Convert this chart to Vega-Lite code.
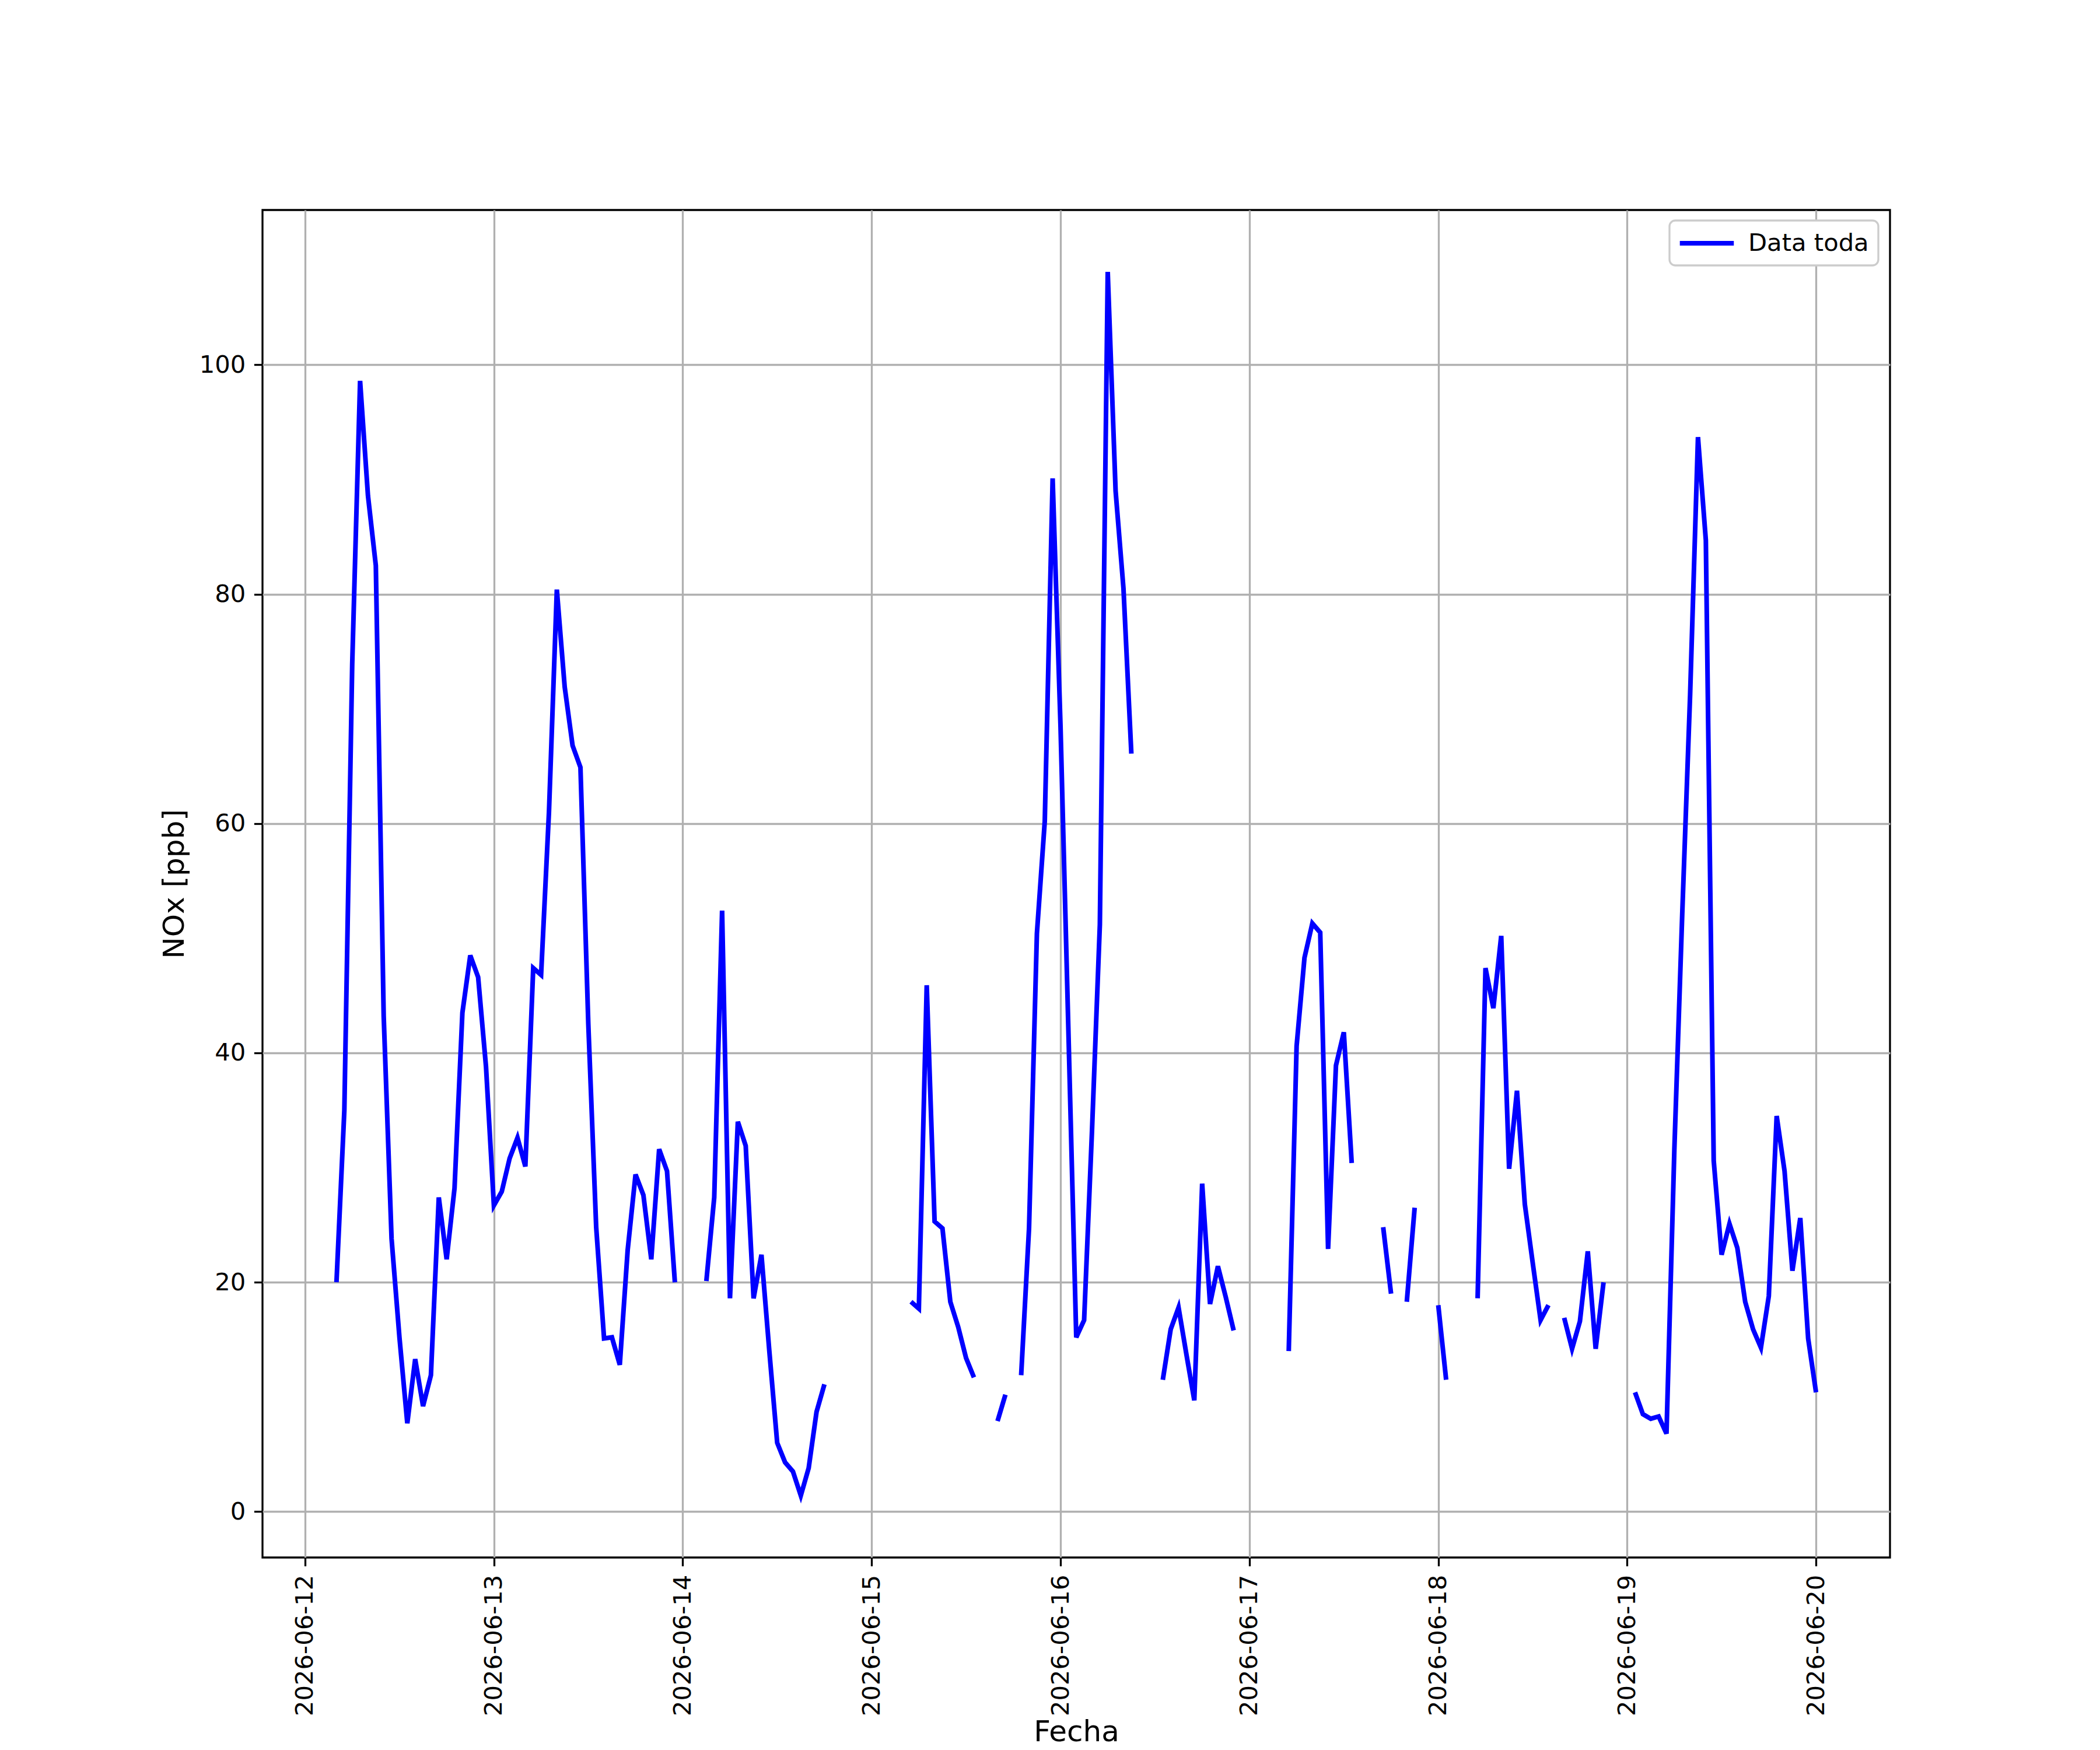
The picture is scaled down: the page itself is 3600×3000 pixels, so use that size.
{
  "$schema": "https://vega.github.io/schema/vega-lite/v6.json",
  "description": "NOx hourly, 2026-06-12 to 2026-06-20, gaps where data is missing",
  "width": 2790,
  "height": 2310,
  "autosize": {"type": "none"},
  "padding": {"left": 450, "top": 360, "right": 360, "bottom": 330},
  "background": "white",
  "config": {
    "font": "DejaVu Sans",
    "view": {"stroke": "black", "strokeWidth": 3.3},
    "axis": {
      "domain": false,
      "grid": true,
      "gridColor": "#b0b0b0",
      "gridWidth": 3.3,
      "tickColor": "black",
      "tickWidth": 3.3,
      "tickSize": 14.6,
      "labelPadding": 14.6,
      "labelLimit": 0,
      "labelFont": "DejaVu Sans",
      "labelFontSize": 41.7,
      "labelColor": "black",
      "titleFont": "DejaVu Sans",
      "titleFontSize": 50,
      "titleFontWeight": "normal",
      "titleColor": "black",
      "titlePadding": 17
    }
  },
  "data": {
    "values": [
      {"t": "2026-06-12T04:00", "nox": 20.0},
      {"t": "2026-06-12T05:00", "nox": 35.0},
      {"t": "2026-06-12T06:00", "nox": 73.9},
      {"t": "2026-06-12T07:00", "nox": 98.6},
      {"t": "2026-06-12T08:00", "nox": 88.6},
      {"t": "2026-06-12T09:00", "nox": 82.5},
      {"t": "2026-06-12T10:00", "nox": 43.2},
      {"t": "2026-06-12T11:00", "nox": 23.8},
      {"t": "2026-06-12T12:00", "nox": 15.2},
      {"t": "2026-06-12T13:00", "nox": 7.7},
      {"t": "2026-06-12T14:00", "nox": 13.3},
      {"t": "2026-06-12T15:00", "nox": 9.2},
      {"t": "2026-06-12T16:00", "nox": 11.9},
      {"t": "2026-06-12T17:00", "nox": 27.4},
      {"t": "2026-06-12T18:00", "nox": 22.0},
      {"t": "2026-06-12T19:00", "nox": 28.2},
      {"t": "2026-06-12T20:00", "nox": 43.5},
      {"t": "2026-06-12T21:00", "nox": 48.5},
      {"t": "2026-06-12T22:00", "nox": 46.6},
      {"t": "2026-06-12T23:00", "nox": 38.8},
      {"t": "2026-06-13T00:00", "nox": 26.7},
      {"t": "2026-06-13T01:00", "nox": 27.9},
      {"t": "2026-06-13T02:00", "nox": 30.8},
      {"t": "2026-06-13T03:00", "nox": 32.6},
      {"t": "2026-06-13T04:00", "nox": 30.1},
      {"t": "2026-06-13T05:00", "nox": 47.4},
      {"t": "2026-06-13T06:00", "nox": 46.8},
      {"t": "2026-06-13T07:00", "nox": 61.0},
      {"t": "2026-06-13T08:00", "nox": 80.4},
      {"t": "2026-06-13T09:00", "nox": 71.9},
      {"t": "2026-06-13T10:00", "nox": 66.8},
      {"t": "2026-06-13T11:00", "nox": 64.9},
      {"t": "2026-06-13T12:00", "nox": 42.5},
      {"t": "2026-06-13T13:00", "nox": 24.8},
      {"t": "2026-06-13T14:00", "nox": 15.1},
      {"t": "2026-06-13T15:00", "nox": 15.2},
      {"t": "2026-06-13T16:00", "nox": 12.8},
      {"t": "2026-06-13T17:00", "nox": 22.8},
      {"t": "2026-06-13T18:00", "nox": 29.4},
      {"t": "2026-06-13T19:00", "nox": 27.6},
      {"t": "2026-06-13T20:00", "nox": 22.0},
      {"t": "2026-06-13T21:00", "nox": 31.6},
      {"t": "2026-06-13T22:00", "nox": 29.7},
      {"t": "2026-06-13T23:00", "nox": 20.0},
      {"t": "2026-06-14T00:00", "nox": null},
      {"t": "2026-06-14T01:00", "nox": null},
      {"t": "2026-06-14T02:00", "nox": null},
      {"t": "2026-06-14T03:00", "nox": 20.1},
      {"t": "2026-06-14T04:00", "nox": 27.4},
      {"t": "2026-06-14T05:00", "nox": 52.4},
      {"t": "2026-06-14T06:00", "nox": 18.6},
      {"t": "2026-06-14T07:00", "nox": 34.0},
      {"t": "2026-06-14T08:00", "nox": 31.9},
      {"t": "2026-06-14T09:00", "nox": 18.6},
      {"t": "2026-06-14T10:00", "nox": 22.4},
      {"t": "2026-06-14T11:00", "nox": 14.0},
      {"t": "2026-06-14T12:00", "nox": 6.0},
      {"t": "2026-06-14T13:00", "nox": 4.3},
      {"t": "2026-06-14T14:00", "nox": 3.5},
      {"t": "2026-06-14T15:00", "nox": 1.4},
      {"t": "2026-06-14T16:00", "nox": 3.8},
      {"t": "2026-06-14T17:00", "nox": 8.7},
      {"t": "2026-06-14T18:00", "nox": 11.1},
      {"t": "2026-06-14T19:00", "nox": null},
      {"t": "2026-06-14T20:00", "nox": null},
      {"t": "2026-06-14T21:00", "nox": null},
      {"t": "2026-06-14T22:00", "nox": null},
      {"t": "2026-06-14T23:00", "nox": null},
      {"t": "2026-06-15T00:00", "nox": null},
      {"t": "2026-06-15T01:00", "nox": null},
      {"t": "2026-06-15T02:00", "nox": null},
      {"t": "2026-06-15T03:00", "nox": null},
      {"t": "2026-06-15T04:00", "nox": null},
      {"t": "2026-06-15T05:00", "nox": 18.3},
      {"t": "2026-06-15T06:00", "nox": 17.7},
      {"t": "2026-06-15T07:00", "nox": 45.9},
      {"t": "2026-06-15T08:00", "nox": 25.3},
      {"t": "2026-06-15T09:00", "nox": 24.7},
      {"t": "2026-06-15T10:00", "nox": 18.3},
      {"t": "2026-06-15T11:00", "nox": 16.1},
      {"t": "2026-06-15T12:00", "nox": 13.4},
      {"t": "2026-06-15T13:00", "nox": 11.7},
      {"t": "2026-06-15T14:00", "nox": null},
      {"t": "2026-06-15T15:00", "nox": null},
      {"t": "2026-06-15T16:00", "nox": 7.9},
      {"t": "2026-06-15T17:00", "nox": 10.2},
      {"t": "2026-06-15T18:00", "nox": null},
      {"t": "2026-06-15T19:00", "nox": 11.9},
      {"t": "2026-06-15T20:00", "nox": 24.7},
      {"t": "2026-06-15T21:00", "nox": 50.4},
      {"t": "2026-06-15T22:00", "nox": 60.2},
      {"t": "2026-06-15T23:00", "nox": 90.1},
      {"t": "2026-06-16T00:00", "nox": 68.5},
      {"t": "2026-06-16T01:00", "nox": 42.0},
      {"t": "2026-06-16T02:00", "nox": 15.2},
      {"t": "2026-06-16T03:00", "nox": 16.7},
      {"t": "2026-06-16T04:00", "nox": 33.2},
      {"t": "2026-06-16T05:00", "nox": 51.2},
      {"t": "2026-06-16T06:00", "nox": 108.1},
      {"t": "2026-06-16T07:00", "nox": 89.0},
      {"t": "2026-06-16T08:00", "nox": 80.5},
      {"t": "2026-06-16T09:00", "nox": 66.1},
      {"t": "2026-06-16T10:00", "nox": null},
      {"t": "2026-06-16T11:00", "nox": null},
      {"t": "2026-06-16T12:00", "nox": null},
      {"t": "2026-06-16T13:00", "nox": 11.5},
      {"t": "2026-06-16T14:00", "nox": 15.9},
      {"t": "2026-06-16T15:00", "nox": 17.8},
      {"t": "2026-06-16T16:00", "nox": 13.7},
      {"t": "2026-06-16T17:00", "nox": 9.7},
      {"t": "2026-06-16T18:00", "nox": 28.6},
      {"t": "2026-06-16T19:00", "nox": 18.1},
      {"t": "2026-06-16T20:00", "nox": 21.4},
      {"t": "2026-06-16T21:00", "nox": 18.7},
      {"t": "2026-06-16T22:00", "nox": 15.8},
      {"t": "2026-06-16T23:00", "nox": null},
      {"t": "2026-06-17T00:00", "nox": null},
      {"t": "2026-06-17T01:00", "nox": null},
      {"t": "2026-06-17T02:00", "nox": null},
      {"t": "2026-06-17T03:00", "nox": null},
      {"t": "2026-06-17T04:00", "nox": null},
      {"t": "2026-06-17T05:00", "nox": 14.0},
      {"t": "2026-06-17T06:00", "nox": 40.6},
      {"t": "2026-06-17T07:00", "nox": 48.3},
      {"t": "2026-06-17T08:00", "nox": 51.3},
      {"t": "2026-06-17T09:00", "nox": 50.5},
      {"t": "2026-06-17T10:00", "nox": 22.9},
      {"t": "2026-06-17T11:00", "nox": 38.9},
      {"t": "2026-06-17T12:00", "nox": 41.8},
      {"t": "2026-06-17T13:00", "nox": 30.4},
      {"t": "2026-06-17T14:00", "nox": null},
      {"t": "2026-06-17T15:00", "nox": null},
      {"t": "2026-06-17T16:00", "nox": null},
      {"t": "2026-06-17T17:00", "nox": 24.8},
      {"t": "2026-06-17T18:00", "nox": 19.0},
      {"t": "2026-06-17T19:00", "nox": null},
      {"t": "2026-06-17T20:00", "nox": 18.3},
      {"t": "2026-06-17T21:00", "nox": 26.5},
      {"t": "2026-06-17T22:00", "nox": null},
      {"t": "2026-06-17T23:00", "nox": null},
      {"t": "2026-06-18T00:00", "nox": 18.0},
      {"t": "2026-06-18T01:00", "nox": 11.5},
      {"t": "2026-06-18T02:00", "nox": null},
      {"t": "2026-06-18T03:00", "nox": null},
      {"t": "2026-06-18T04:00", "nox": null},
      {"t": "2026-06-18T05:00", "nox": 18.6},
      {"t": "2026-06-18T06:00", "nox": 47.4},
      {"t": "2026-06-18T07:00", "nox": 43.9},
      {"t": "2026-06-18T08:00", "nox": 50.2},
      {"t": "2026-06-18T09:00", "nox": 29.9},
      {"t": "2026-06-18T10:00", "nox": 36.7},
      {"t": "2026-06-18T11:00", "nox": 26.8},
      {"t": "2026-06-18T12:00", "nox": 21.7},
      {"t": "2026-06-18T13:00", "nox": 16.7},
      {"t": "2026-06-18T14:00", "nox": 18.0},
      {"t": "2026-06-18T15:00", "nox": null},
      {"t": "2026-06-18T16:00", "nox": 16.9},
      {"t": "2026-06-18T17:00", "nox": 14.2},
      {"t": "2026-06-18T18:00", "nox": 16.6},
      {"t": "2026-06-18T19:00", "nox": 22.7},
      {"t": "2026-06-18T20:00", "nox": 14.2},
      {"t": "2026-06-18T21:00", "nox": 20.0},
      {"t": "2026-06-18T22:00", "nox": null},
      {"t": "2026-06-18T23:00", "nox": null},
      {"t": "2026-06-19T00:00", "nox": null},
      {"t": "2026-06-19T01:00", "nox": 10.4},
      {"t": "2026-06-19T02:00", "nox": 8.5},
      {"t": "2026-06-19T03:00", "nox": 8.1},
      {"t": "2026-06-19T04:00", "nox": 8.3},
      {"t": "2026-06-19T05:00", "nox": 6.8},
      {"t": "2026-06-19T06:00", "nox": 31.6},
      {"t": "2026-06-19T07:00", "nox": 52.1},
      {"t": "2026-06-19T08:00", "nox": 71.2},
      {"t": "2026-06-19T09:00", "nox": 93.7},
      {"t": "2026-06-19T10:00", "nox": 84.7},
      {"t": "2026-06-19T11:00", "nox": 30.6},
      {"t": "2026-06-19T12:00", "nox": 22.4},
      {"t": "2026-06-19T13:00", "nox": 25.1},
      {"t": "2026-06-19T14:00", "nox": 23.0},
      {"t": "2026-06-19T15:00", "nox": 18.3},
      {"t": "2026-06-19T16:00", "nox": 15.9},
      {"t": "2026-06-19T17:00", "nox": 14.3},
      {"t": "2026-06-19T18:00", "nox": 18.8},
      {"t": "2026-06-19T19:00", "nox": 34.5},
      {"t": "2026-06-19T20:00", "nox": 29.7},
      {"t": "2026-06-19T21:00", "nox": 21.0},
      {"t": "2026-06-19T22:00", "nox": 25.6},
      {"t": "2026-06-19T23:00", "nox": 15.1},
      {"t": "2026-06-20T00:00", "nox": 10.4}
    ]
  },
  "mark": {
    "type": "line",
    "strokeWidth": 8,
    "strokeCap": "butt",
    "invalid": "break-paths-show-domains",
    "clip": true
  },
  "encoding": {
    "x": {
      "field": "t",
      "type": "temporal",
      "title": "Fecha",
      "scale": {"domain": ["2026-06-11T18:36", "2026-06-20T09:24"], "nice": false},
      "axis": {
        "format": "%Y-%m-%d",
        "labelAngle": 270,
        "tickCount": {"interval": "day", "step": 1},
        "titleY": 314,
        "titleBaseline": "alphabetic"
      }
    },
    "y": {
      "field": "nox",
      "type": "quantitative",
      "title": "NOx [ppb]",
      "scale": {"domain": [-4, 113.5], "nice": false, "zero": false},
      "axis": {"values": [0, 20, 40, 60, 80, 100]}
    },
    "color": {
      "datum": "Data toda",
      "type": "nominal",
      "scale": {"range": ["blue"]},
      "legend": {
        "title": null,
        "orient": "none",
        "legendX": 2412,
        "legendY": 18,
        "symbolType": "M-2.5,0L2.5,0",
        "symbolSize": 1370,
        "symbolOffset": 25,
        "symbolStrokeWidth": 8,
        "labelFont": "DejaVu Sans",
        "labelFontSize": 41.7,
        "labelColor": "black",
        "labelLimit": 0,
        "labelOffset": 48,
        "padding": 16,
        "fillColor": "white",
        "strokeColor": "#cccccc",
        "cornerRadius": 10,
        "encode": {"legend": {"update": {"strokeWidth": {"value": 3.3}}}}
      }
    }
  }
}
